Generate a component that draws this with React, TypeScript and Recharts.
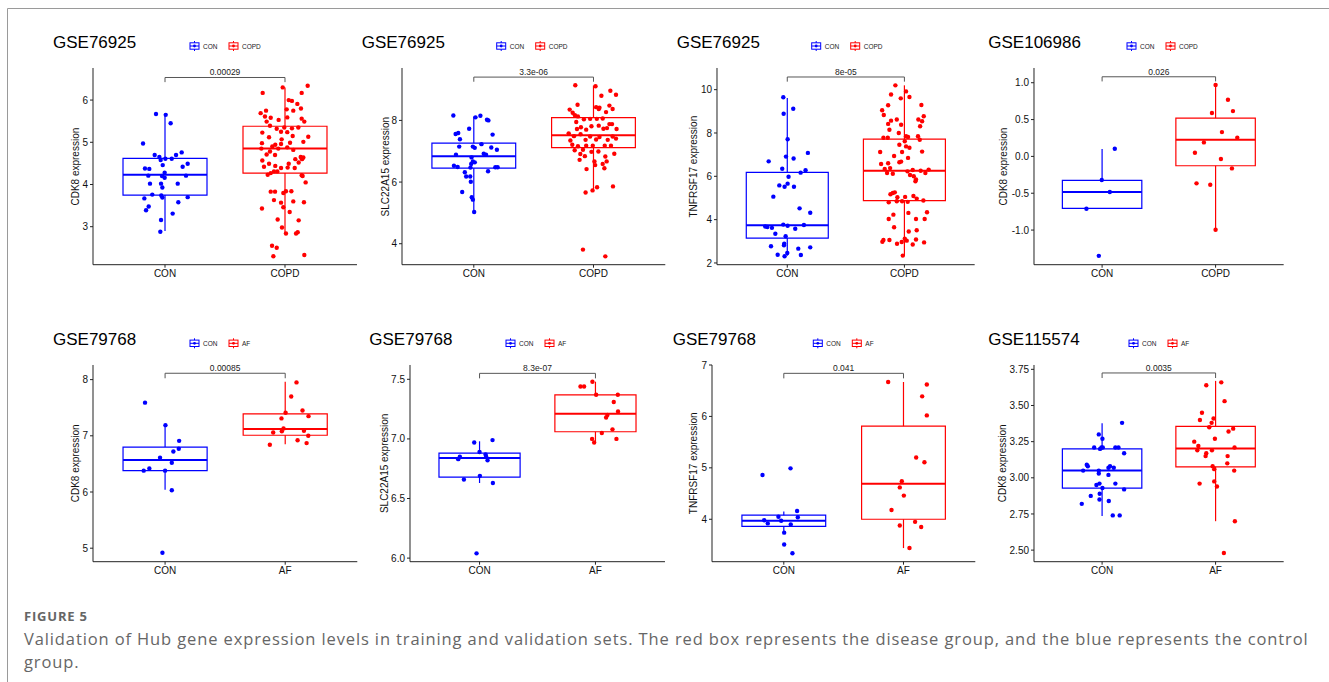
import React from 'react';
import { ComposedChart, XAxis, YAxis, Scatter, ReferenceArea, ReferenceLine, ReferenceDot } from 'recharts';

const BLUE = '#0000FF';
const RED = '#FF0000';
const FONT = "'Liberation Sans', Arial, Helvetica, sans-serif";

// ---------- data ----------
const copdGroups = ['CON', 'COPD'];
const afGroups = ['CON', 'AF'];

const titles = ['GSE76925', 'GSE76925', 'GSE76925', 'GSE106986', 'GSE79768', 'GSE79768', 'GSE79768', 'GSE115574'];
const yLabels = ['CDK8 expression', 'SLC22A15 expression', 'TNFRSF17 expression', 'CDK8 expression', 'CDK8 expression', 'SLC22A15 expression', 'TNFRSF17 expression', 'CDK8 expression'];
const pValues = ['0.00029', '3.3e-06', '8e-05', '0.026', '0.00085', '8.3e-07', '0.041', '0.0035'];

const yDomains = [[2.1, 6.76], [3.32, 9.7], [1.92, 11.0], [-1.47, 1.2], [4.76, 8.26], [5.97, 7.62], [3.175, 7.0], [2.42, 3.78]];
const yTicks = [[3, 4, 5, 6], [4, 6, 8], [2, 4, 6, 8, 10], [-1, -0.5, 0, 0.5, 1], [5, 6, 7, 8], [6, 6.5, 7, 7.5], [4, 5, 6, 7], [2.5, 2.75, 3, 3.25, 3.5, 3.75]];
const tickDigits = [0, 0, 0, 1, 0, 1, 0, 2];

// box stats: [lower whisker, q1, median, q3, upper whisker]
const boxCon = [
  [2.9, 3.75, 4.23, 4.62, 5.65],
  [5.02, 6.45, 6.84, 7.26, 8.13],
  [2.33, 3.15, 3.74, 6.18, 9.62],
  [-0.706, -0.706, -0.484, -0.326, 0.1],
  [6.04, 6.38, 6.57, 6.8, 7.2],
  [6.63, 6.68, 6.84, 6.88, 6.98],
  [3.74, 3.86, 3.97, 4.08, 4.15],
  [2.736, 2.928, 3.05, 3.2, 3.378],
];
const boxDis = [
  [2.85, 4.27, 4.85, 5.38, 6.3],
  [5.68, 7.12, 7.52, 8.09, 9.13],
  [2.31, 4.88, 6.26, 7.72, 10.2],
  [-0.995, -0.127, 0.226, 0.52, 0.97],
  [6.85, 7.01, 7.12, 7.39, 7.96],
  [6.97, 7.06, 7.21, 7.37, 7.48],
  [3.44, 4.0, 4.69, 5.81, 6.67],
  [2.7, 3.076, 3.203, 3.355, 3.67],
];
// bracket: [top, tick end]
const brackets = [[6.535, 6.425], [9.405, 9.254], [10.585, 10.37], [1.081, 1.018], [8.113, 8.024], [7.55, 7.508], [6.838, 6.74], [3.725, 3.69]];

// points: [jitter, value]
const p1Con = [[-0.075,5.67],[0.006,5.65],[0.047,5.45],[-0.183,4.97],[-0.086,4.7],[-0.047,4.65],[0.139,4.76],[0.092,4.7],[0.056,4.61],[0.003,4.61],[-0.036,4.58],[0.189,4.49],[-0.019,4.46],[0.147,4.42],[-0.167,4.38],[-0.131,4.37],[-0.003,4.28],[-0.139,4.21],[-0.025,4.2],[0.175,4.21],[-0.003,4.16],[-0.125,4.02],[-0.033,4.02],[0.106,4.02],[-0.022,3.93],[-0.106,3.76],[-0.031,3.74],[-0.022,3.69],[-0.172,3.67],[0.189,3.7],[0.111,3.58],[-0.136,3.48],[-0.158,3.39],[0.064,3.31],[-0.033,3.16],[-0.039,2.88]];
const p1Dis = [[0.189,6.34],[-0.019,6.3],[-0.186,6.17],[0.139,6.17],[0.031,6.0],[0.058,5.98],[0.103,5.91],[-0.158,5.75],[0.133,5.8],[0.014,5.78],[0.069,5.75],[-0.203,5.69],[-0.167,5.61],[0.019,5.59],[0.139,5.56],[0.161,5.49],[-0.053,5.53],[-0.153,5.49],[-0.125,5.39],[-0.069,5.32],[-0.006,5.35],[0.058,5.33],[0.111,5.35],[-0.189,5.23],[-0.033,5.25],[0.019,5.24],[-0.133,5.12],[0.194,5.13],[-0.028,5.07],[0.153,5.01],[-0.192,4.98],[-0.081,4.94],[-0.033,4.96],[0.042,4.99],[-0.106,4.9],[-0.056,4.85],[0.019,4.88],[-0.197,4.85],[-0.125,4.78],[-0.153,4.71],[0.069,4.82],[0.131,4.65],[0.086,4.6],[0.153,4.64],[0.114,4.52],[-0.189,4.57],[-0.133,4.49],[0.031,4.49],[-0.081,4.44],[-0.033,4.39],[0.081,4.39],[-0.119,4.27],[-0.092,4.31],[-0.064,4.31],[-0.144,4.23],[0.147,4.2],[0.172,4.05],[0.022,4.4],[0.008,3.84],[0.053,3.84],[-0.119,3.83],[-0.083,3.83],[-0.014,3.8],[-0.092,3.63],[0.069,3.6],[0.158,3.58],[-0.033,3.57],[-0.192,3.43],[-0.014,3.46],[0.039,3.35],[-0.061,3.17],[0.114,3.15],[-0.025,2.98],[0.008,2.84],[0.092,2.84],[0.106,2.87],[-0.108,2.55],[-0.069,2.5],[-0.097,2.3],[0.161,2.33],[-0.119,5.58],[0.064,5.15],[-0.175,4.42],[0.142,4.6],[-0.083,4.7],[0.139,4.22]];
const p2Con = [[-0.171,8.16],[0.014,8.1],[0.055,8.15],[0.11,8.02],[0.122,8.0],[-0.152,7.56],[-0.13,7.59],[-0.039,7.73],[-0.116,7.39],[0.157,7.54],[-0.122,7.15],[-0.008,7.15],[0.008,7.11],[0.064,7.23],[0.146,7.12],[0.193,7.05],[0.083,6.92],[0.102,6.89],[-0.149,6.89],[-0.019,6.8],[-0.008,6.67],[0.008,6.64],[-0.022,6.59],[-0.166,6.53],[-0.135,6.49],[0.18,6.48],[0.199,6.48],[-0.028,6.47],[-0.075,6.32],[0.119,6.35],[-0.064,6.18],[-0.03,6.18],[-0.025,6.01],[-0.097,5.68],[-0.017,5.51],[-0.008,5.43],[0.003,5.03]];
const p2Dis = [[-0.152,9.14],[0.017,9.11],[0.141,8.96],[0.188,8.83],[0.066,8.8],[-0.133,8.51],[0.022,8.43],[0.044,8.37],[0.05,8.41],[0.133,8.48],[0.16,8.37],[-0.199,8.35],[-0.174,8.25],[-0.155,8.17],[-0.13,8.13],[0.105,8.27],[-0.08,8.04],[-0.028,8.05],[0.028,8.05],[0.077,8.06],[-0.144,7.95],[-0.105,7.78],[0.133,7.88],[0.155,7.88],[0.044,7.83],[-0.017,7.81],[-0.061,7.7],[-0.138,7.72],[0.083,7.73],[0.193,7.72],[0.113,7.75],[-0.207,7.58],[-0.163,7.49],[-0.108,7.55],[-0.028,7.48],[0.05,7.46],[0.16,7.48],[0.188,7.41],[-0.193,7.35],[-0.066,7.37],[0.022,7.38],[0.119,7.37],[-0.177,7.21],[-0.13,7.16],[-0.061,7.18],[-0.006,7.18],[0.094,7.18],[0.146,7.18],[-0.157,7.03],[-0.088,7.05],[-0.017,6.98],[0.041,6.99],[-0.11,6.91],[-0.072,6.84],[0.174,6.92],[0.099,6.83],[-0.116,6.72],[0.008,6.67],[0.11,6.67],[0.077,6.59],[0.014,6.55],[0.091,6.45],[-0.058,6.42],[0.163,5.86],[0.03,5.83],[-0.008,5.73],[-0.066,5.66],[-0.088,3.81],[0.099,3.59]];
const p3Con = [[-0.034,9.65],[0.051,9.12],[-0.031,8.89],[0.003,7.71],[0.176,7.08],[-0.011,6.91],[0.054,6.82],[-0.159,6.69],[-0.043,6.35],[0.156,6.28],[0.114,6.17],[0.011,5.98],[-0.068,5.58],[0.003,5.66],[-0.023,5.52],[0.057,5.52],[-0.119,5.06],[0.105,4.52],[0.196,4.32],[-0.034,3.77],[0.003,3.72],[0.142,3.75],[0.068,3.58],[-0.188,3.68],[-0.17,3.66],[-0.131,3.62],[-0.102,3.35],[-0.014,3.23],[-0.026,2.89],[-0.028,2.82],[-0.139,2.77],[0.094,2.66],[0.196,2.72],[-0.082,2.38],[0.0,2.46],[-0.023,2.31],[0.116,2.37]];
const p3Dis = [[-0.077,10.2],[0.014,9.92],[-0.114,9.78],[0.043,9.66],[-0.031,9.6],[-0.139,9.28],[0.145,9.29],[-0.19,9.05],[-0.176,8.83],[0.165,8.77],[0.119,8.62],[0.151,8.54],[-0.065,8.62],[-0.114,8.57],[-0.139,8.42],[-0.028,8.38],[-0.128,8.15],[0.134,8.31],[-0.179,7.78],[-0.142,7.78],[0.014,7.85],[0.031,7.82],[-0.048,8.0],[0.116,7.85],[-0.043,7.46],[0.003,7.62],[0.131,7.69],[0.043,7.32],[-0.207,7.12],[0.014,7.38],[0.151,7.14],[-0.02,7.12],[-0.088,6.94],[0.031,6.85],[-0.199,6.57],[-0.139,6.6],[-0.043,6.65],[-0.028,6.68],[-0.122,6.38],[-0.168,6.34],[-0.148,6.15],[-0.099,6.12],[0.026,6.23],[0.071,6.29],[0.207,6.31],[0.048,6.06],[0.08,6.0],[0.099,5.85],[0.094,5.77],[0.179,6.15],[0.139,6.26],[-0.099,5.23],[-0.119,5.17],[-0.082,5.26],[0.006,5.05],[0.077,5.09],[0.105,4.97],[0.162,4.88],[-0.134,4.8],[-0.065,4.85],[0.028,4.82],[-0.02,4.85],[-0.06,5.03],[0.193,4.34],[0.034,4.31],[-0.094,4.23],[-0.134,4.03],[0.173,4.03],[0.099,4.03],[-0.088,3.65],[0.105,3.51],[0.037,3.45],[-0.179,3.06],[-0.128,3.06],[0.003,3.12],[-0.188,2.98],[0.02,3.03],[0.099,3.08],[-0.063,2.89],[0.071,2.85],[0.168,2.95],[-0.023,2.97],[-0.014,2.34]];
const p4Con = [[0.112,0.104],[-0.003,-0.32],[0.068,-0.484],[-0.138,-0.71],[-0.029,-1.35]];
const p4Dis = [[0.0,0.97],[0.109,0.77],[0.153,0.615],[-0.032,0.59],[0.056,0.33],[0.191,0.253],[-0.103,0.19],[-0.182,0.05],[0.047,-0.036],[0.144,-0.163],[-0.168,-0.366],[-0.047,-0.385],[0.0,-0.995]];
const p5Con = [[-0.167,7.59],[0.003,7.19],[0.117,6.91],[0.114,6.77],[0.069,6.72],[-0.042,6.61],[-0.131,6.42],[0.056,6.52],[-0.178,6.38],[0.0,6.38],[0.056,6.03],[-0.022,4.92]];
const p5Dis = [[0.094,7.95],[0.05,7.7],[0.144,7.45],[0.003,7.41],[0.194,7.35],[-0.031,7.31],[-0.014,7.13],[0.156,7.09],[-0.1,7.06],[-0.028,7.08],[0.192,7.0],[0.103,6.92],[-0.128,6.84],[0.178,6.87]];
const p6Con = [[-0.046,6.97],[0.112,6.99],[0.0,6.89],[-0.17,6.85],[-0.184,6.83],[0.052,6.87],[0.057,6.85],[0.069,6.82],[0.003,6.69],[-0.135,6.66],[0.115,6.63],[-0.026,6.04]];
const p6Dis = [[-0.129,7.44],[-0.098,7.44],[-0.026,7.48],[0.006,7.37],[0.193,7.37],[0.158,7.31],[0.195,7.23],[0.103,7.2],[0.092,7.18],[0.147,7.08],[0.055,7.05],[-0.029,7.0],[0.181,7.0],[-0.011,6.97]];
const p7Con = [[-0.178,4.86],[0.056,4.99],[0.111,4.16],[0.117,4.04],[-0.045,4.05],[-0.164,3.98],[-0.134,3.92],[-0.022,3.97],[0.058,3.9],[0.003,3.74],[0.003,3.51],[0.072,3.34]];
const p7Dis = [[-0.128,6.67],[0.195,6.62],[0.156,6.39],[0.195,6.02],[0.106,5.2],[0.175,5.11],[-0.014,4.74],[-0.031,4.62],[0.003,4.46],[-0.1,4.18],[0.097,3.95],[-0.031,3.88],[0.148,3.85],[0.05,3.44]];
const p8Con = [[0.176,3.38],[-0.029,3.3],[0.003,3.27],[-0.07,3.21],[-0.006,3.21],[0.006,3.21],[-0.018,3.2],[0.117,3.21],[0.144,3.21],[0.194,3.17],[-0.135,3.09],[-0.126,3.08],[0.07,3.08],[0.056,3.07],[0.103,3.07],[-0.167,3.05],[-0.029,3.05],[-0.029,3.03],[0.056,3.02],[-0.023,2.96],[-0.05,2.95],[0.117,2.96],[0.003,2.93],[0.194,2.92],[-0.1,2.875],[-0.021,2.89],[-0.023,2.85],[0.059,2.84],[-0.179,2.82],[0.094,2.74],[0.155,2.74]];
const p8Dis = [[-0.082,3.64],[0.05,3.66],[0.079,3.53],[-0.12,3.45],[-0.018,3.41],[-0.138,3.4],[-0.035,3.38],[-0.056,3.35],[0.155,3.34],[0.114,3.32],[-0.006,3.27],[-0.188,3.25],[-0.152,3.22],[0.167,3.21],[-0.161,3.19],[-0.032,3.19],[-0.082,3.17],[-0.088,3.15],[0.106,3.15],[0.103,3.1],[-0.026,3.08],[-0.012,3.06],[0.164,3.05],[-0.141,2.96],[-0.012,2.975],[0.012,2.94],[0.17,2.7],[0.073,2.48]];

const conPoints = [p1Con, p2Con, p3Con, p4Con, p5Con, p6Con, p7Con, p8Con];
const disPoints = [p1Dis, p2Dis, p3Dis, p4Dis, p5Dis, p6Dis, p7Dis, p8Dis];
const groupNames = [copdGroups, copdGroups, copdGroups, copdGroups, afGroups, afGroups, afGroups, afGroups];

// ---------- layout ----------
const plots = [
  { left: 93, right: 357, top: 68.3, bottom: 265 },
  { left: 401.7, right: 665, top: 68.3, bottom: 265 },
  { left: 717.3, right: 975, top: 68.3, bottom: 265 },
  { left: 1034.3, right: 1284, top: 68.3, bottom: 265 },
  { left: 92.7, right: 357, top: 365, bottom: 561.7 },
  { left: 410, right: 665, top: 365, bottom: 561.7 },
  { left: 711.7, right: 975, top: 365, bottom: 561.7 },
  { left: 1034.3, right: 1284, top: 365, bottom: 561.7 },
];
const titlePos = [[53, 48], [361.7, 48], [676.7, 48], [988.3, 48], [53, 345], [369.3, 345], [672.7, 345], [988.3, 345]];
const legendPos = [[190, 46], [496.7, 46], [811.7, 46], [1127, 46], [190, 343.3], [506, 343.3], [813.3, 343.3], [1129, 343.3]];
const yLabelX = [75, 385, 693.3, 1003.3, 75, 384, 693.3, 1002.7];

const HALF = 0.35;

function Panel({ i }: { i: number }) {
  const p = plots[i];
  const YW = 50, XH = 25, MT = 10, MR = 6;
  const pw = p.right - p.left;
  const ph = p.bottom - p.top;
  const width = pw + YW + MR;
  const height = ph + MT + XH;
  const groups = groupNames[i];
  const stats = [boxCon[i], boxDis[i]];
  const colors = [BLUE, RED];
  const pts = [conPoints[i], disPoints[i]].map((arr, g) => arr.map(([j, y]) => ({ x: g + 1 + j, y })));
  const [bTop, bEnd] = brackets[i];
  const els: any[] = [];
  stats.forEach((s, g) => {
    const c = g + 1;
    const [lo, q1, med, q3, hi] = s;
    const col = colors[g];
    if (hi > q3) els.push(<ReferenceLine key={`wh${g}`} segment={[{ x: c, y: q3 }, { x: c, y: hi }]} stroke={col} strokeWidth={1.2} ifOverflow="visible" />);
    if (lo < q1) els.push(<ReferenceLine key={`wl${g}`} segment={[{ x: c, y: lo }, { x: c, y: q1 }]} stroke={col} strokeWidth={1.2} ifOverflow="visible" />);
    els.push(<ReferenceArea key={`b${g}`} x1={c - HALF} x2={c + HALF} y1={q1} y2={q3} fill="none" fillOpacity={0} stroke={col} strokeWidth={1.2} strokeOpacity={1} ifOverflow="visible" />);
    els.push(<ReferenceLine key={`m${g}`} segment={[{ x: c - HALF, y: med }, { x: c + HALF, y: med }]} stroke={col} strokeWidth={2} ifOverflow="visible" />);
  });
  els.push(<ReferenceLine key="br1" segment={[{ x: 1, y: bEnd }, { x: 1, y: bTop }]} stroke="#555" strokeWidth={1} ifOverflow="visible" />);
  els.push(<ReferenceLine key="br2" segment={[{ x: 1, y: bTop }, { x: 2, y: bTop }]} stroke="#555" strokeWidth={1} ifOverflow="visible" />);
  els.push(<ReferenceLine key="br3" segment={[{ x: 2, y: bTop }, { x: 2, y: bEnd }]} stroke="#555" strokeWidth={1} ifOverflow="visible" />);
  els.push(
    <ReferenceDot key="pv" x={1.5} y={bTop} r={0} fill="none" stroke="none" ifOverflow="visible"
      label={{ value: pValues[i], position: 'top', offset: 2, fontSize: 8.5, fill: '#222' }} />
  );
  return (
    <div style={{ position: 'absolute', left: p.left - YW, top: p.top - MT }}>
      <ComposedChart width={width} height={height} margin={{ top: MT, right: MR, bottom: 0, left: 0 }}>
        <XAxis type="number" dataKey="x" domain={[0.4, 2.6]} ticks={[1, 2]} interval={0} allowDataOverflow
          height={XH} tickSize={3} tickMargin={2}
          tickFormatter={(v: number) => groups[Math.round(v) - 1]}
          tick={{ fontSize: 10, fill: '#111' }} axisLine={{ stroke: '#222', strokeWidth: 1 }} tickLine={{ stroke: '#222' }} />
        <YAxis type="number" dataKey="y" domain={yDomains[i] as [number, number]} ticks={yTicks[i]} interval={0} allowDataOverflow
          width={YW} tickSize={3} tickMargin={2}
          tickFormatter={(v: number) => v.toFixed(tickDigits[i])}
          tick={{ fontSize: 10, fill: '#111' }} axisLine={{ stroke: '#222', strokeWidth: 1 }} tickLine={{ stroke: '#222' }} />
        {els}
        {pts.map((d, g) => (
          <Scatter key={`s${g}`} data={d} isAnimationActive={false}
            shape={(sp: any) => <circle cx={sp.cx} cy={sp.cy} r={2.2} fill={colors[g]} />} />
        ))}
      </ComposedChart>
    </div>
  );
}

function LegendIcon({ x, y, color }: { x: number; y: number; color: string }) {
  return (
    <g>
      <line x1={x + 4.5} x2={x + 4.5} y1={y - 5} y2={y + 5} stroke={color} strokeWidth={1} />
      <rect x={x} y={y - 3.2} width={9} height={6.4} fill="#fff" stroke={color} strokeWidth={1} />
      <line x1={x} x2={x + 9} y1={y} y2={y} stroke={color} strokeWidth={1} />
      <circle cx={x + 4.5} cy={y} r={1.4} fill={color} />
    </g>
  );
}

function Overlay() {
  return (
    <svg width={1329} height={682} style={{ position: 'absolute', left: 0, top: 0, pointerEvents: 'none' }}>
      <line x1={7.5} y1={8.5} x2={1329} y2={8.5} stroke="#9a9a9a" strokeWidth={1} />
      <line x1={7.5} y1={8.5} x2={7.5} y2={682} stroke="#9a9a9a" strokeWidth={1} />
      {titles.map((t, i) => (
        <text key={`t${i}`} x={titlePos[i][0]} y={titlePos[i][1]} fontSize={17} fill="#000" fontFamily={FONT}>{t}</text>
      ))}
      {yLabels.map((t, i) => {
        const cy = (plots[i].top + plots[i].bottom) / 2;
        return (
          <text key={`y${i}`} transform={`translate(${yLabelX[i]},${cy}) rotate(-90)`} textAnchor="middle" dominantBaseline="central"
            fontSize={10} fill="#111" fontFamily={FONT}>{t}</text>
        );
      })}
      {legendPos.map(([lx, ly], i) => (
        <g key={`l${i}`}>
          <LegendIcon x={lx} y={ly} color={BLUE} />
          <text x={lx + 13} y={ly} dominantBaseline="central" fontSize={6.5} fill="#222" fontFamily={FONT}>{groupNames[i][0]}</text>
          <LegendIcon x={lx + 39} y={ly} color={RED} />
          <text x={lx + 52} y={ly} dominantBaseline="central" fontSize={6.5} fill="#222" fontFamily={FONT}>{groupNames[i][1]}</text>
        </g>
      ))}
      <text x={24} y={620.7} fontSize={13} fontWeight={700} letterSpacing={0.8} fill="#666" fontFamily="'Open Sans', sans-serif">FIGURE 5</text>
      <text x={24} y={645} fontSize={16.5} letterSpacing={0.88} fill="#666" fontFamily="'Open Sans', sans-serif">Validation of Hub gene expression levels in training and validation sets. The red box represents the disease group, and the blue represents the control</text>
      <text x={24} y={668.3} fontSize={16.5} letterSpacing={0.88} fill="#666" fontFamily="'Open Sans', sans-serif">group.</text>
    </svg>
  );
}

export default function App() {
  return (
    <div style={{ position: 'absolute', left: 0, top: 0, width: 1329, height: 682, background: '#fff', overflow: 'hidden', fontFamily: FONT }}>
      {plots.map((_, i) => <Panel key={i} i={i} />)}
      <Overlay />
    </div>
  );
}
